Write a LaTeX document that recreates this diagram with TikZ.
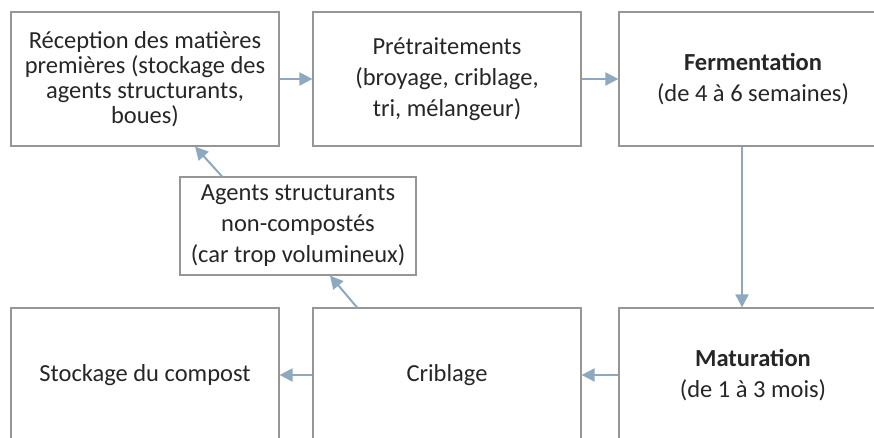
\documentclass[tikz,border=0pt]{standalone}
\usepackage{fontspec}
\setmainfont{Carlito}
\usepackage{tikz}
\usetikzlibrary{arrows.meta}

\definecolor{boxline}{RGB}{150,150,150}
\definecolor{flow}{RGB}{142,168,192}
\definecolor{txt}{RGB}{38,38,38}

\tikzset{
  box/.style={draw=boxline, line width=1.2pt, rectangle, align=center, text=txt,
    minimum width=268pt, minimum height=134pt, inner sep=2pt,
    font=\fontsize{24.5}{31}\selectfont},
  flowline/.style={draw=flow, line width=2pt, -{Triangle[length=13pt,width=13pt]}}
}

\begin{document}
\begin{tikzpicture}[x=1pt,y=1pt,yscale=-1,xscale=1]
\clip (0,0) rectangle (874,438);

%Shape: Rectangle [id:rec]
\node (rec) at (145,79) [box, font=\fontsize{24.5}{25}\selectfont] {Réception des matières\\premières (stockage des\\agents structurants,\\boues)};
%Shape: Rectangle [id:pre]
\node (pre) at (447,79) [box] {Prétraitements\\(broyage, criblage,\\tri, mélangeur)};
%Shape: Rectangle [id:fer]
\node (fer) at (753,79) [box] {\textbf{Fermentation}\\(de 4 à 6 semaines)};
%Shape: Rectangle [id:mat]
\node (mat) at (753,375) [box] {\textbf{Maturation}\\(de 1 à 3 mois)};
%Shape: Rectangle [id:crib]
\node (crib) at (447,375) [box] {Criblage};
%Shape: Rectangle [id:stock]
\node (stock) at (145,375) [box] {Stockage du compost};
%Shape: Rectangle [id:agt]
\node (agt) at (298,226) [box, minimum width=236pt, minimum height=98pt] {Agents structurants\\non-compostés\\(car trop volumineux)};

%Straight Lines [id:rec-pre]
\draw [flowline] (rec.east) -- (pre.west);
%Straight Lines [id:pre-fer]
\draw [flowline] (pre.east) -- (fer.west);
%Straight Lines [id:fer-mat]
\draw [flowline] ([xshift=-11pt]fer.south) -- ([xshift=-11pt]mat.north);
%Straight Lines [id:mat-crib]
\draw [flowline] (mat.west) -- (crib.east);
%Straight Lines [id:crib-stock]
\draw [flowline] (crib.west) -- (stock.east);
%Straight Lines [id:crib-agt]
\draw [flowline] ([xshift=-90pt]crib.north) -- ([xshift=32pt]agt.south);
%Straight Lines [id:agt-rec]
\draw [flowline] ([xshift=-76pt]agt.north) -- ([xshift=50pt]rec.south);

\end{tikzpicture}
\end{document}
